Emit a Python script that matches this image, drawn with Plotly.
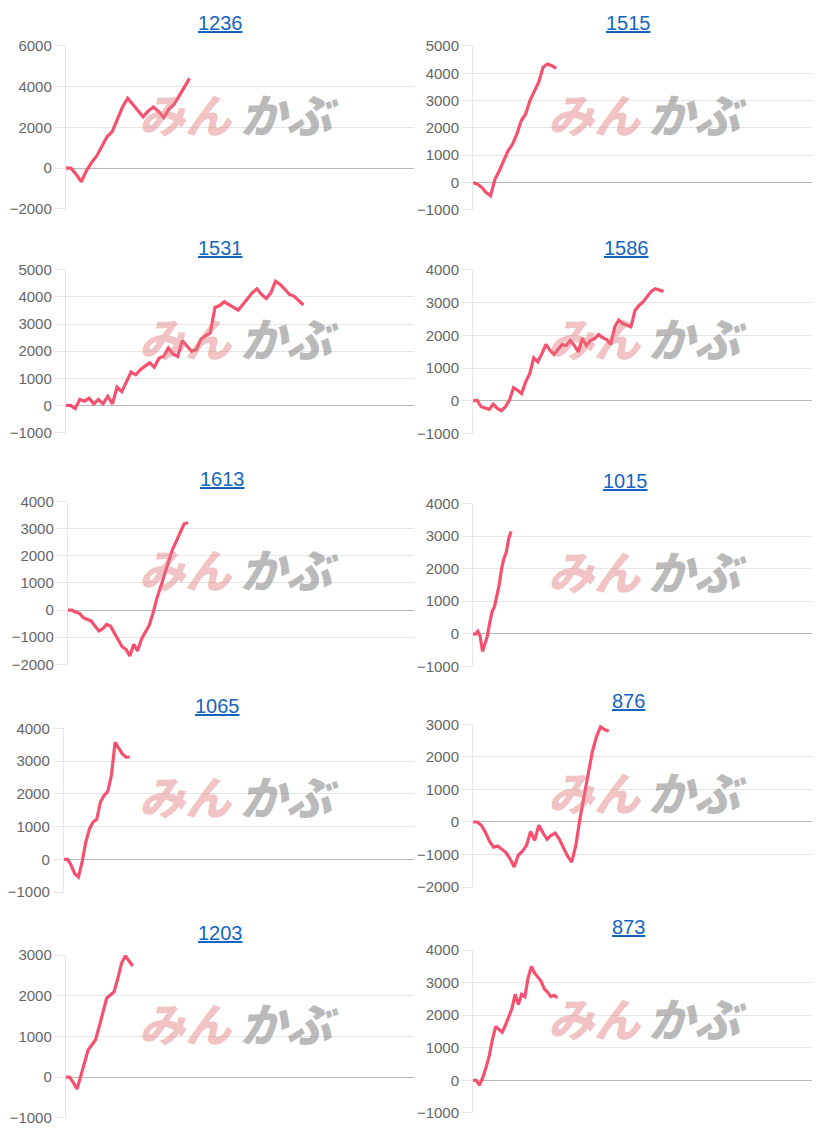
import plotly.graph_objects as go

# ---------------- data ----------------
titles = ["1236", "1515", "1531", "1586", "1613", "1015", "1065", "876", "1203", "873"]

s1236 = [0, 0, -300, -670, -130, 280, 600, 1100, 1540, 1790, 2400, 3000, 3430, 3140, 2840,
         2520, 2810, 3000, 2780, 2480, 2890, 3140, 3550, 3990, 4410]
s1515 = [0, -60, -180, -370, -490, 120, 430, 790, 1160, 1400, 1770, 2260, 2500, 3000, 3360,
         3670, 4220, 4340, 4280, 4180]
s1531 = [0, 0, -120, 220, 160, 270, 60, 220, 60, 340, 60, 670, 510, 860, 1230, 1130, 1320,
         1450, 1570, 1410, 1740, 1810, 2110, 1900, 1810, 2390, 2210, 1990, 2060, 2440, 2570,
         2670, 3610, 3680, 3820, 3730, 3610, 3510, 3730, 3970, 4150, 4300, 4090, 3940, 4150,
         4580, 4460, 4280, 4090, 4020, 3860, 3700]
s1586 = [0, 20, -180, -230, -260, -100, -230, -300, -180, 20, 400, 320, 220, 580, 830, 1310,
         1190, 1440, 1720, 1540, 1410, 1570, 1720, 1690, 1840, 1690, 1490, 1910, 1690, 1840,
         1900, 2020, 1930, 1870, 1720, 2260, 2460, 2360, 2310, 2260, 2760, 2910, 3020, 3200,
         3340, 3420, 3370, 3340]
s1613 = [0, 0, -70, -120, -280, -340, -400, -590, -770, -690, -530, -590, -860, -1140, -1350,
         -1450, -1690, -1260, -1510, -1060, -810, -560, -100, 450, 880, 1370, 1800, 2230, 2540,
         2870, 3180, 3220]
s1015 = [0, -10, 80, -80, -540, -340, -80, 330, 680, 830, 1190, 1500, 2000, 2310, 2510, 2920,
         3140]
s1065 = [0, 0, -180, -440, -540, -80, 530, 930, 1140, 1220, 1750, 1950, 2070, 2560, 3570, 3390,
         3220, 3120, 3120]
s876 = [0, 0, -100, -310, -590, -770, -740, -840, -940, -1130, -1380, -1020, -900, -720, -290,
        -560, -100, -330, -530, -410, -340, -530, -800, -1050, -1230, -720, 100, 820, 1530, 2150,
        2610, 2920, 2840, 2790]
s1203 = [0, 0, -130, -290, 20, 340, 670, 790, 920, 1250, 1570, 1940, 2020, 2100, 2430, 2800,
         2980, 2840, 2730]
s873 = [0, 0, -150, 80, 390, 750, 1260, 1660, 1560, 1480, 1690, 1920, 2200, 2640, 2330, 2640,
        2570, 3150, 3500, 3300, 3150, 3040, 2810, 2710, 2570, 2610, 2540]

series = [s1236, s1515, s1531, s1586, s1613, s1015, s1065, s876, s1203, s873]

y_min = [-2000, -1000, -1000, -1000, -2000, -1000, -1000, -2000, -1000, -1000]
y_max = [6000, 5000, 5000, 4000, 4000, 4000, 4000, 3000, 3000, 4000]
y_step = [2000, 1000, 1000, 1000, 1000, 1000, 1000, 1000, 1000, 1000]

# ---------------- layout ----------------
W, H = 820, 1135
# placement of the figure in the photographed page (measured): screen = A + S * figure
AX, SX = 16.0, 0.986
AY, SY = 16.0, 0.986

# plot-area boxes in screen pixels: (left, right, top, bottom, title_x, title_y)
boxes = [
    (59, 409, 45, 208, 214, 22), (468, 822, 45, 209, 624, 22),
    (59, 409, 269, 432, 214, 247), (468, 822, 269, 433, 622, 247),
    (61, 409, 501, 664, 216, 478), (468, 822, 503, 666, 621, 480),
    (57, 409, 728, 892, 211, 706), (468, 822, 724, 887, 624, 701),
    (59, 409, 955, 1118, 214, 933), (468, 822, 950, 1113, 624, 927),
]
# fraction of plot width reached by the last point
end_frac = [0.355, 0.236, 0.682, 0.54, 0.347, 0.108, 0.188, 0.385, 0.192, 0.239]


def px(x):
    return min(max((x - AX) / SX / W, 0), 1)


def py(y):
    return min(max(1 - (y - AY) / SY / H, 0), 1)


LINE = "#f5516f"
GRID = "#e6e6e6"
ZERO = "#b8b8b8"
TICKC = "#666666"
LINK = "#1565c0"

fig = go.Figure()
annotations = []
for i, (ttl, ys) in enumerate(zip(titles, series)):
    l, r, t, b, tx, ty = boxes[i]
    n = len(ys)
    xs = list(range(n))
    xmax = (n - 1) / end_frac[i]
    ax = "" if i == 0 else str(i + 1)
    fig.add_trace(go.Scatter(
        x=xs, y=ys, mode="lines",
        line=dict(color=LINE, width=3.2),
        xaxis="x" + ax, yaxis="y" + ax,
        hoverinfo="skip", showlegend=False,
    ))
    fig.update_layout(**{
        "xaxis" + ax: dict(domain=[px(l), px(r)], range=[0, xmax], showgrid=False,
                           zeroline=False, showticklabels=False, showline=False, ticks="",
                           anchor="y" + ax, fixedrange=True),
        "yaxis" + ax: dict(domain=[py(b), py(t)], range=[y_min[i], y_max[i]], dtick=y_step[i],
                           tick0=0, showgrid=True, gridcolor=GRID, gridwidth=1,
                           zeroline=True, zerolinecolor=ZERO, zerolinewidth=1,
                           showline=True, linecolor=GRID, linewidth=1,
                           ticks="outside", ticklen=10, tickcolor=GRID,
                           tickfont=dict(family="Liberation Sans, Arial", size=15, color=TICKC),
                           anchor="x" + ax, fixedrange=True),
    })
    # title (link style)
    annotations.append(dict(
        text="<u>" + ttl + "</u>", x=px(tx), y=py(ty), xref="paper", yref="paper",
        xanchor="center", yanchor="middle", showarrow=False,
        font=dict(family="Liberation Sans, Arial", size=20, color=LINK),
    ))
    # watermark
    cy = py(t + (b - t) * 0.41)
    wx = 131 if i % 2 == 0 else 541
    annotations.append(dict(
        text="みん", x=px(wx), y=cy, xref="paper", yref="paper",
        xanchor="left", yanchor="middle", showarrow=False,
        font=dict(family="Noto Sans CJK JP", size=46, color="rgba(226,120,124,0.45)",
                  weight=900, style="italic"),
    ))
    annotations.append(dict(
        text="かぶ", x=px(wx + 101), y=cy, xref="paper", yref="paper",
        xanchor="left", yanchor="middle", showarrow=False,
        font=dict(family="Noto Sans CJK JP", size=46, color="rgba(140,140,140,0.6)",
                  weight=900, style="italic"),
    ))

fig.update_layout(
    width=W, height=H, margin=dict(l=0, r=0, t=0, b=0),
    paper_bgcolor="white", plot_bgcolor="white",
    annotations=annotations, showlegend=False,
)

fig.write_html("out.html")
